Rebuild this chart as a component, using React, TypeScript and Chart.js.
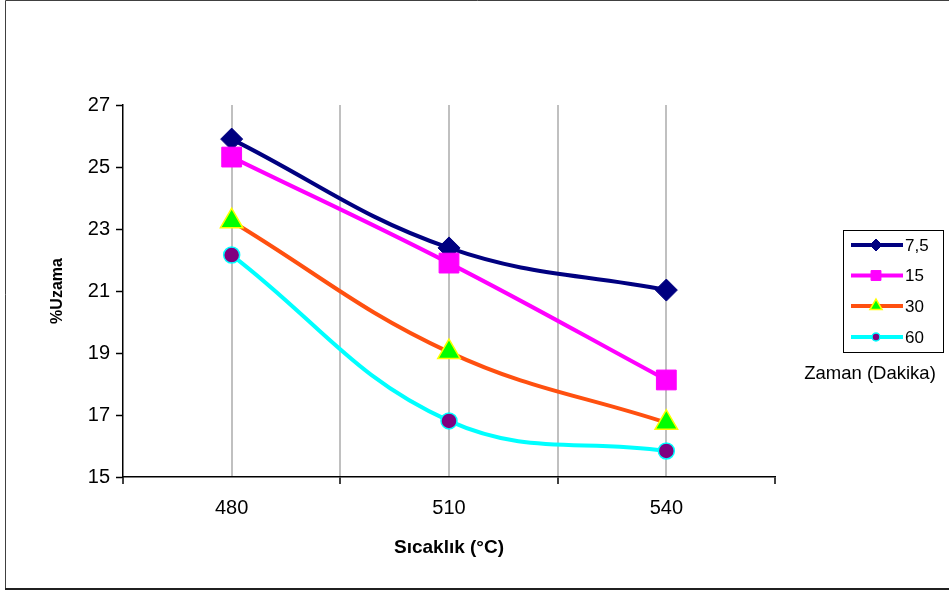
import React, { useEffect, useRef } from 'react';
import { Chart, registerables } from 'chart.js';
import { drawPoint } from 'chart.js/helpers';

Chart.register(...registerables);

const temperatures = [480, 510, 540];
const seriesLabels = ['7,5', '15', '30', '60'];
const values75 = [25.9, 22.39, 21.03];
const values15 = [25.32, 21.9, 18.13];
const values30 = [23.25, 19.03, 16.75];
const values60 = [22.16, 16.81, 15.84];
const xTickLabels = [480, 510, 540];
const yMin = 15;
const yMax = 27;
const yStep = 2;
const xMin = 465;
const xMax = 555;
const xStep = 15;
const xTitle = 'Sıcaklık (°C)';
const yTitle = '%Uzama';
const legendTitle = 'Zaman (Dakika)';

const seriesValues = [values75, values15, values30, values60];
const lineColors = ['#000080', '#FF00FF', '#FF5010', '#00FFFF'];
const pointStyles = ['rectRot', 'rect', 'triangle', 'circle'];
const pointFills = ['#000080', '#FF00FF', '#00FF00', '#800080'];
const pointBorders = ['#000080', '#FF00FF', '#FFFF00', '#00FFFF'];
const pointRadii = [11, 14, 13, 8];
const pointBorderWidths = [1, 1, 1.5, 1.5];
const legendRadii = [6, 7, 7, 4];

const FONT = 'Liberation Sans, Arial, sans-serif';

const decorPlugin = {
  id: 'decor',
  beforeDraw(chart: any) {
    const ctx = chart.ctx;
    ctx.save();
    ctx.fillStyle = '#FFFFFF';
    ctx.fillRect(0, 0, chart.width, chart.height);
    ctx.restore();
  },
  afterDraw(chart: any) {
    const ctx = chart.ctx;
    ctx.save();
    // frame
    ctx.strokeStyle = '#404040';
    ctx.lineWidth = 1;
    ctx.beginPath();
    ctx.moveTo(5.5, 589);
    ctx.lineTo(5.5, 0.5);
    ctx.lineTo(949, 0.5);
    ctx.stroke();
    ctx.lineWidth = 2;
    ctx.strokeStyle = '#202020';
    ctx.beginPath();
    ctx.moveTo(5, 589);
    ctx.lineTo(949, 589);
    ctx.stroke();

    // legend box
    ctx.lineWidth = 1;
    ctx.strokeStyle = '#000000';
    ctx.strokeRect(843.5, 230.5, 100, 122);
    const rowY = [245, 275.5, 306, 337];
    seriesLabels.forEach((label, i) => {
      const y = rowY[i];
      ctx.strokeStyle = lineColors[i];
      ctx.lineWidth = 4;
      ctx.beginPath();
      ctx.moveTo(851, y);
      ctx.lineTo(903, y);
      ctx.stroke();
      ctx.fillStyle = pointFills[i];
      ctx.strokeStyle = pointBorders[i];
      ctx.lineWidth = pointBorderWidths[i];
      drawPoint(ctx, { pointStyle: pointStyles[i], radius: legendRadii[i], rotation: 0, borderWidth: pointBorderWidths[i] } as any, 876, y);
      ctx.fillStyle = '#000000';
      ctx.font = `17px ${FONT}`;
      ctx.textAlign = 'left';
      ctx.textBaseline = 'middle';
      ctx.fillText(label, 905, y + 1);
    });
    ctx.fillStyle = '#000000';
    ctx.font = `18.5px ${FONT}`;
    ctx.textAlign = 'center';
    ctx.textBaseline = 'middle';
    ctx.fillText(legendTitle, 870, 374);
    ctx.restore();
  },
};

export default function App() {
  const canvasRef = useRef<HTMLCanvasElement | null>(null);

  useEffect(() => {
    document.body.style.margin = '0';
    const canvas = canvasRef.current;
    if (!canvas) return;
    const datasets = seriesValues.map((vals, i) => ({
      label: seriesLabels[i],
      data: temperatures.map((t, j) => ({ x: t, y: vals[j] })),
      borderColor: lineColors[i],
      backgroundColor: pointFills[i],
      borderWidth: 4,
      pointStyle: pointStyles[i],
      pointRadius: pointRadii[i],
      pointBackgroundColor: pointFills[i],
      pointBorderColor: pointBorders[i],
      pointBorderWidth: pointBorderWidths[i],
      tension: 0.4,
      fill: false,
      order: seriesValues.length - 1 - i,
    }));

    const chart = new Chart(canvas, {
      type: 'line',
      data: { datasets },
      options: {
        responsive: false,
        animation: false,
        devicePixelRatio: 1,
        layout: { padding: { left: 0, top: 105, right: 174, bottom: 0 } },
        plugins: {
          legend: { display: false },
          title: { display: false },
          tooltip: { enabled: false },
        },
        scales: {
          x: {
            type: 'linear',
            min: xMin,
            max: xMax,
            afterFit: (scale: any) => {
              scale.height = 115;
            },
            ticks: {
              stepSize: xStep,
              autoSkip: false,
              maxRotation: 0,
              padding: 12,
              color: '#000000',
              font: { family: FONT, size: 20 },
              callback: (v: any) => (xTickLabels.includes(Number(v)) ? String(v) : ''),
            },
            grid: {
              drawOnChartArea: true,
              drawTicks: true,
              tickLength: 7,
              lineWidth: 2,
              tickWidth: 1.5,
              color: (c: any) => (c.tick && (c.tick.value === xMin || c.tick.value === xMax) ? 'rgba(0,0,0,0)' : '#C0C0C0'),
              tickColor: (c: any) => (c.tick && xTickLabels.includes(c.tick.value) ? 'rgba(0,0,0,0)' : '#000000'),
            },
            border: { display: true, color: '#000000', width: 1.5 },
            title: {
              display: true,
              text: xTitle,
              color: '#000000',
              font: { family: FONT, size: 19, weight: 'bold' },
              padding: { top: 0, bottom: 33 },
            },
          },
          y: {
            type: 'linear',
            min: yMin,
            max: yMax,
            afterFit: (scale: any) => {
              scale.width = 123;
            },
            ticks: {
              stepSize: yStep,
              padding: 6,
              color: '#000000',
              font: { family: FONT, size: 20 },
            },
            grid: {
              drawOnChartArea: false,
              drawTicks: true,
              tickLength: 7,
              tickWidth: 1.5,
              color: '#000000',
              tickColor: '#000000',
            },
            border: { display: true, color: '#000000', width: 1.5 },
            title: {
              display: true,
              text: yTitle,
              color: '#000000',
              font: { family: FONT, size: 16, weight: 'bold' },
              padding: { top: 48, bottom: 0 },
            },
          },
        },
      },
      plugins: [decorPlugin],
    });

    return () => {
      chart.destroy();
    };
  }, []);

  return (
    <div style={{ width: 949, height: 592 }}>
      <canvas ref={canvasRef} width={949} height={592} style={{ display: 'block' }} />
    </div>
  );
}
